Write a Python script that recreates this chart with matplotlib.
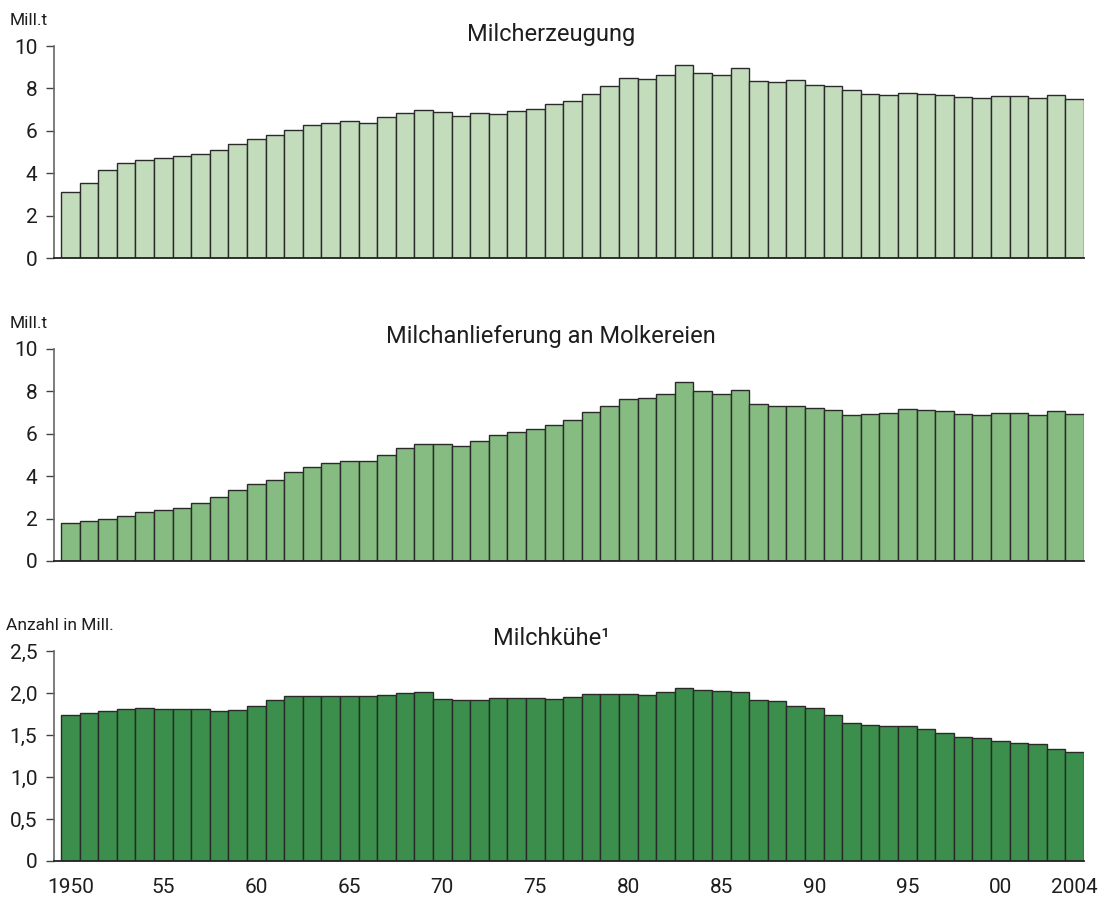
import numpy as np
import matplotlib
matplotlib.use('Agg')
import matplotlib.pyplot as plt

years = list(range(1950, 2005))

milk_production = [
    3.12, 3.56, 4.16, 4.48, 4.60, 4.70, 4.81, 4.92, 5.09, 5.36,
    5.59, 5.79, 6.06, 6.27, 6.38, 6.44, 6.39, 6.63, 6.84, 6.98,
    6.87, 6.71, 6.84, 6.80, 6.95, 7.04, 7.26, 7.41, 7.75, 8.09,
    8.50, 8.45, 8.62, 9.11, 8.73, 8.65, 8.94, 8.37, 8.32, 8.39,
    8.15, 8.12, 7.93, 7.72, 7.69, 7.77, 7.72, 7.67, 7.59, 7.56,
    7.64, 7.63, 7.53, 7.67, 7.52,
]

milk_delivery = [
    1.79, 1.88, 1.96, 2.12, 2.29, 2.39, 2.51, 2.75, 3.02, 3.35,
    3.62, 3.82, 4.19, 4.44, 4.60, 4.72, 4.71, 4.98, 5.32, 5.53,
    5.51, 5.43, 5.67, 5.92, 6.08, 6.21, 6.43, 6.67, 7.05, 7.30,
    7.66, 7.71, 7.87, 8.42, 8.04, 7.88, 8.07, 7.41, 7.31, 7.33,
    7.22, 7.11, 6.90, 6.94, 7.00, 7.17, 7.11, 7.09, 6.92, 6.87,
    7.00, 7.00, 6.90, 7.09, 6.95,
]

dairy_cows = [
    1.737, 1.764, 1.780, 1.808, 1.816, 1.808, 1.812, 1.812, 1.780, 1.800,
    1.851, 1.922, 1.966, 1.966, 1.966, 1.962, 1.966, 1.978, 1.998, 2.006,
    1.934, 1.911, 1.922, 1.938, 1.938, 1.946, 1.926, 1.958, 1.990, 1.990,
    1.994, 1.978, 2.006, 2.057, 2.037, 2.025, 2.009, 1.919, 1.899, 1.851,
    1.816, 1.737, 1.646, 1.614, 1.602, 1.602, 1.574, 1.519, 1.479, 1.460,
    1.424, 1.408, 1.388, 1.333, 1.297,
]

titles = ['Milcherzeugung', 'Milchanlieferung an Molkereien', 'Milchk\u00fche\u00b9']
units = ['Mill.t', 'Mill.t', 'Anzahl in Mill.']

y_ticks_t = [0, 2, 4, 6, 8, 10]
y_labels_t = ['0', '2', '4', '6', '8', '10']
y_ticks_cows = [0, 0.5, 1.0, 1.5, 2.0, 2.5]
y_labels_cows = ['0', '0,5', '1,0', '1,5', '2,0', '2,5']

x_ticks = [1950, 1955, 1960, 1965, 1970, 1975, 1980, 1985, 1990, 1995, 2000, 2004]
x_labels = ['1950', '55', '60', '65', '70', '75', '80', '85', '90', '95', '00', '2004']

plt.rcParams['font.family'] = ['Roboto', 'DejaVu Sans']

W, H = 1102, 898
fig = plt.figure(figsize=(W / 100, H / 100), dpi=100)

# panel boxes in pixels: (top, bottom)
panels = [(46, 258), (349, 561), (651, 861)]
left_px, right_px = 54, 1084
colors = ['#c2dcbc', '#86bb82', '#3b8e4b']
series = [milk_production, milk_delivery, dairy_cows]
ylims = [10, 10, 2.5]
title_base = [41, 343, 645]
unit_base = [25, 328, 630]
unit_x = [10, 10, 6]
text_color = '#1e1e1e'

for i, (top, bottom) in enumerate(panels):
    ax = fig.add_axes([left_px / W, 1 - bottom / H,
                       (right_px - left_px) / W, (bottom - top) / H])
    ax.bar(years, series[i], width=1.0, color=colors[i],
           edgecolor='#2a2a2a', linewidth=1.0)
    ax.set_xlim(1949.12, 2004.5)
    ax.set_ylim(0, ylims[i])

    for side in ['top', 'right']:
        ax.spines[side].set_visible(False)
    ax.spines['left'].set_color('#666666')
    ax.spines['left'].set_linewidth(1.2)
    ax.spines['bottom'].set_color('#222222')
    ax.spines['bottom'].set_linewidth(1.3)

    if i < 2:
        ax.set_yticks(y_ticks_t)
        ax.set_yticklabels(y_labels_t)
    else:
        ax.set_yticks(y_ticks_cows)
        ax.set_yticklabels(y_labels_cows)
    ax.tick_params(axis='y', direction='out', length=6, width=1.0,
                   color='#444444', labelsize=15, pad=6, labelcolor=text_color)

    if i == 2:
        ax.set_xticks(x_ticks)
        ax.set_xticklabels(x_labels)
        ax.tick_params(axis='x', length=0, labelsize=15, pad=12,
                       labelcolor=text_color)
    else:
        ax.set_xticks([])

    fig.text(0.5, 1 - title_base[i] / H, titles[i], ha='center',
             va='baseline', fontsize=17, color=text_color)
    fig.text(unit_x[i] / W, 1 - unit_base[i] / H, units[i], ha='left',
             va='baseline', fontsize=12.5, color=text_color)

fig.savefig('out.png', dpi=100)
